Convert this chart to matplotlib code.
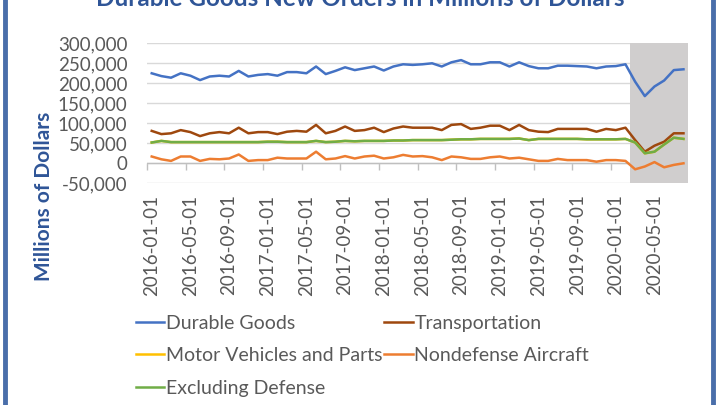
import matplotlib
matplotlib.use("Agg")
import matplotlib.pyplot as plt
from matplotlib.patches import Rectangle
from matplotlib.ticker import FuncFormatter
import numpy as np
import pandas as pd

plt.rcParams['font.family'] = ['Lato', 'DejaVu Sans']

# monthly categories, 2016-01 .. 2020-08
meses = list(pd.date_range('2016-01-01', periods=56, freq='MS').strftime('%Y-%m-%d'))

durable_goods = [225, 218, 214, 225, 219, 208, 217, 219, 217, 231, 217, 221, 223, 219, 228, 228, 225, 242, 223,
                 231, 240, 233, 237.5, 242, 232, 242, 247.5, 246, 247.5, 250, 242, 252.5, 258, 247.5, 247.5, 252.5, 252.5, 242,
                 252.5, 243, 237.5, 237.5, 244, 244, 243, 242, 237.5, 242, 243, 247.5, 204, 168, 192, 207, 233, 235]
transportation = [81, 73, 75, 83, 78, 68, 75, 78, 75, 89, 75, 78, 78, 73, 79, 81, 79, 96, 75,
                  81, 92, 81, 83, 89, 78, 87, 92, 89, 89, 89, 83, 96, 98, 86, 89, 94, 94, 83,
                  96, 83, 79, 78, 86, 86, 86, 86, 79, 86, 83, 89, 58, 29, 44, 54, 75, 75]
motor_vehicles = [52, 56, 53, 53, 53, 53, 53, 53, 53, 53, 53, 53, 54, 54, 53, 53, 53, 56, 53,
                  54, 56, 55, 56, 56, 56, 57, 57, 58, 58, 58, 58, 59, 60, 60, 61, 61, 61, 61,
                  62, 58, 61, 61, 61, 61, 61, 60, 60, 60, 60, 61, 52, 25, 29, 47, 64, 61]
nondefense_aircraft = [17, 10, 6, 17, 17, 6, 11, 10, 12, 22, 6, 8, 8, 14, 12, 12, 12, 29, 10,
                       12, 18, 12, 17, 19, 12, 15, 21, 17, 18, 15, 8, 17, 15, 11, 11, 15, 17, 12,
                       14, 10, 6, 6, 11, 8, 8, 8, 4, 8, 8, 6, -15, -8, 3, -10, -4, 0]
excluding_defense = [52, 56, 53, 53, 53, 53, 53, 53, 53, 53, 53, 53, 54, 54, 53, 53, 53, 56, 53,
                     54, 56, 55, 56, 56, 56, 57, 57, 58, 58, 58, 58, 59, 60, 60, 61, 61, 61, 61,
                     62, 58, 61, 61, 61, 61, 61, 60, 60, 60, 60, 61, 52, 25, 29, 47, 64, 61]

inicio_recesion = '2020-03-01'

series = [
    ("Durable Goods", durable_goods, '#4472C4'),
    ("Transportation", transportation, '#9E480E'),
    ("Motor Vehicles and Parts", motor_vehicles, '#FFC000'),
    ("Nondefense Aircraft", nondefense_aircraft, '#ED7D31'),
    ("Excluding Defense", excluding_defense, '#70AD47'),
]

fig = plt.figure(figsize=(7.2, 4.05), dpi=100)
ax = fig.add_axes([0.204, 0.5474, 0.752, 0.3457])

x = np.arange(len(meses))
lineas = {}
for nombre, valores, color in series:
    l, = ax.plot(x, np.array(valores) * 1000, color=color, lw=1.8, label=nombre, zorder=3)
    lineas[nombre] = l

# shaded recession area
i0 = meses.index(inicio_recesion)
ax.axvspan(i0 - 0.5, len(meses) - 0.5, color='#D0CECE', lw=0, zorder=2)
ax.axhline(0, color='#BFBFBF', lw=1, zorder=1)

ax.set_xlim(-0.5, len(meses) - 0.5)
ax.set_ylim(-50000, 300000)
ax.set_yticks(np.arange(-50000, 300001, 50000))
ax.yaxis.set_major_formatter(FuncFormatter(lambda v, p: f"{v:,.0f}"))
ax.grid(axis='y', color='#D9D9D9', lw=1, zorder=0)
ax.set_axisbelow(True)
for s in ax.spines.values():
    s.set_visible(False)

ax.set_xticks(x[::4])
ax.set_xticklabels(meses[::4], rotation=90)
ax.tick_params(axis='x', length=0, pad=8, labelsize=13.5, labelcolor='#595959')
ax.tick_params(axis='y', length=0, pad=14, labelsize=13.5, labelcolor='#595959')

# category tick marks on the zero line
sec = ax.secondary_xaxis(1 / 7)
sec.spines['bottom'].set_visible(False)
marcas = np.arange(-0.5, i0 - 0.5, 4)
sec.set_xticks(marcas)
sec.set_xticklabels([])
sec.tick_params(axis='x', length=5, color='#BFBFBF', width=1)

fig.text(0.5, 1 - 6 / 405, "Durable Goods New Orders in Millions of Dollars", ha='center', va='baseline',
         fontsize=17.5, fontweight='bold', color='#2F5597')
fig.text(44 / 720, 1 - 196 / 405, "Millions of Dollars", rotation=90, ha='center', va='center',
         fontsize=15, fontweight='bold', color='#2F5597')

orden = ["Durable Goods", "Motor Vehicles and Parts", "Excluding Defense", "Transportation", "Nondefense Aircraft"]
fig.legend([lineas[n] for n in orden], orden, loc='upper left', bbox_to_anchor=(126 / 720, 1 - 305 / 405),
           ncol=2, frameon=False, fontsize=14, handlelength=1.45, handletextpad=0.1, columnspacing=0.1,
           labelspacing=0.8, borderpad=0, labelcolor='#595959')

# blue frame around the picture
fig.patches.append(Rectangle((5 / 720, -0.1), 708 / 720, 1.2, transform=fig.transFigure,
                             fill=False, edgecolor='#4A6EAA', lw=3.5))

fig.savefig("out.png", dpi=100)
